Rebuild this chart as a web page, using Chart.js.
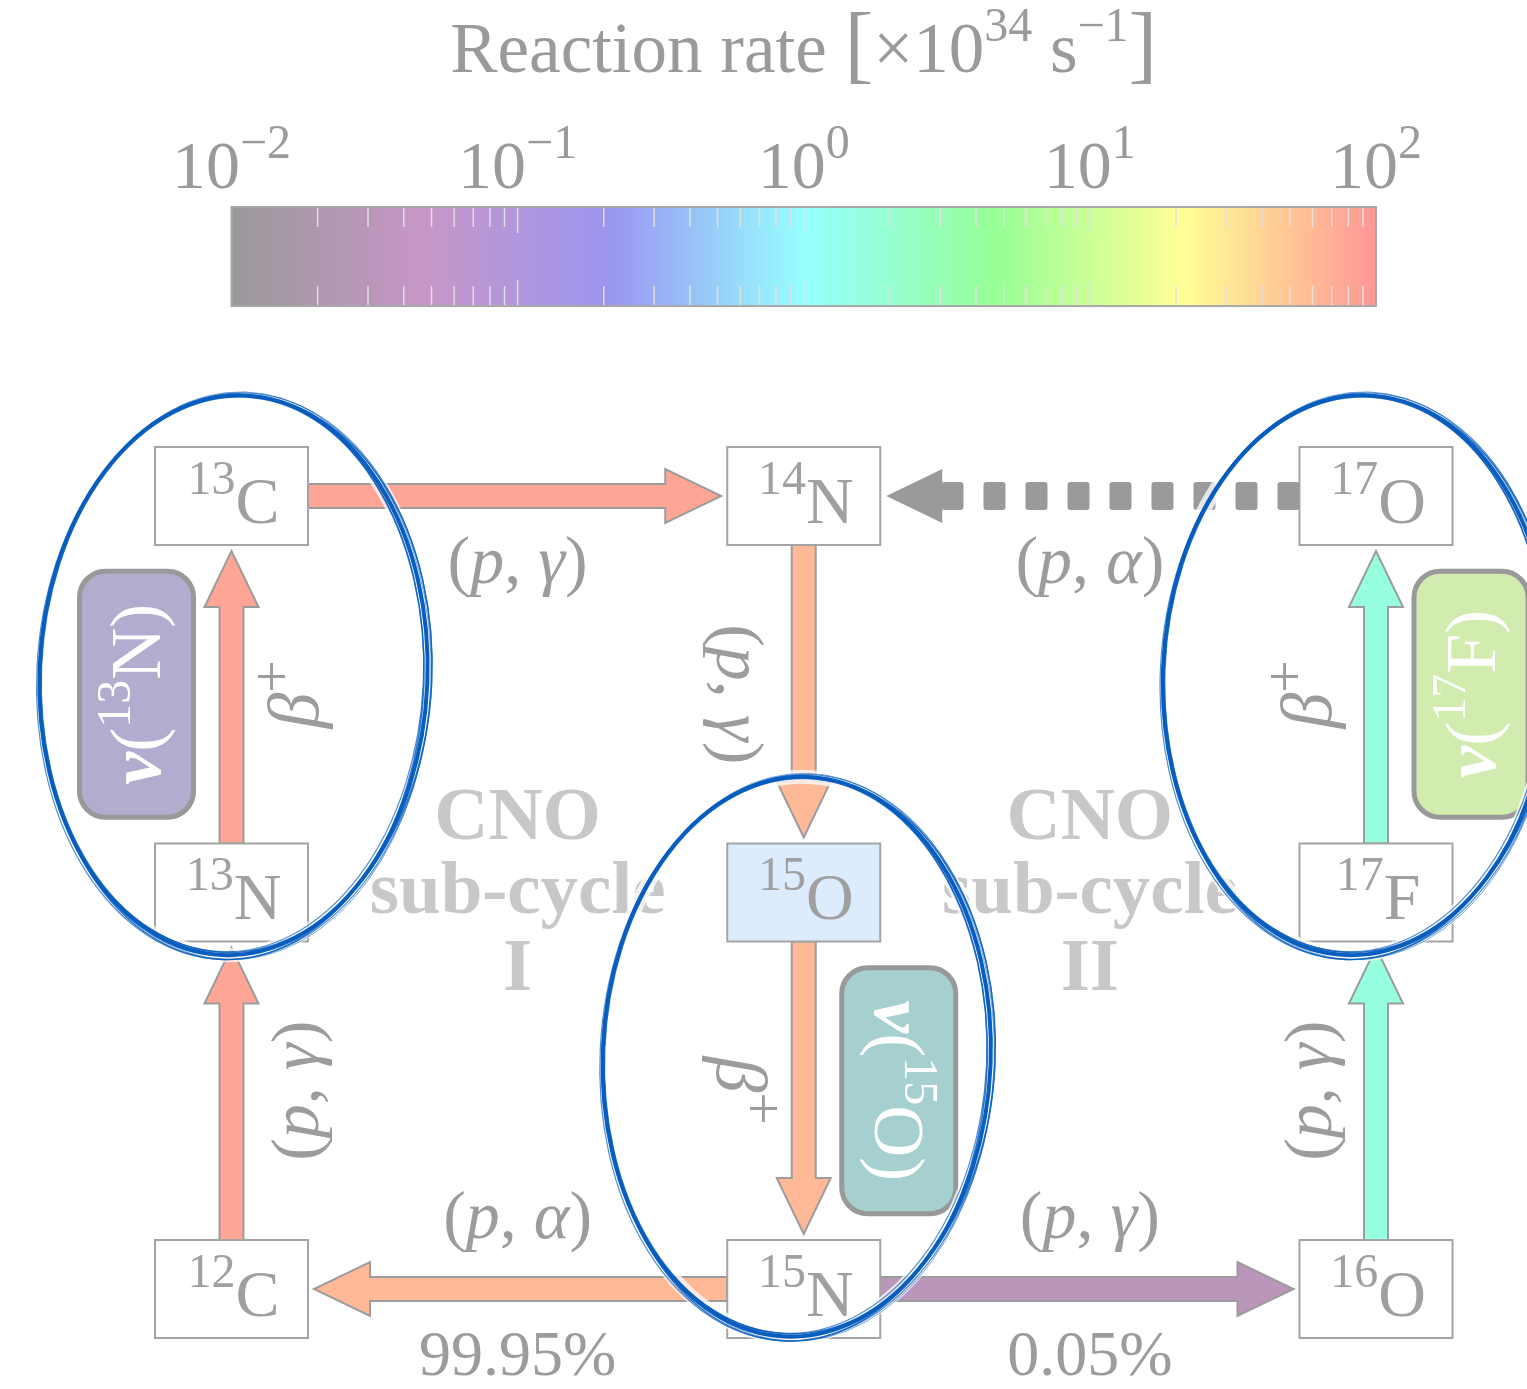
<!DOCTYPE html>
<html>
<head>
<meta charset="utf-8">
<title>CNO cycle reaction rates</title>
<script src="https://cdn.jsdelivr.net/npm/chart.js@4.4.1/dist/chart.umd.min.js"></script>
<style>
html,body{margin:0;padding:0;background:#fff;}
canvas{display:block;}
</style>
</head>
<body>
<canvas id="cno" width="1527" height="1389"></canvas>
<script>
// nuclei, placed on a 3x3 grid (column, row)
const nuclei     = ["13C","14N","17O","13N","15O","17F","12C","15N","16O"];
const massNumber = ["13","14","17","13","15","17","12","15","16"];
const element    = ["C","N","O","N","O","F","C","N","O"];
const gridCol    = [0,1,2,0,1,2,0,1,2];
const gridRow    = [0,0,0,1,1,1,2,2,2];

// reactions: source -> product, type, rate [x10^34 s^-1]
const reactionFrom  = ["13C","14N","15O","15N","12C","13N","15N","16O","17F","17O"];
const reactionTo    = ["14N","15O","15N","12C","13N","13C","16O","17F","17O","14N"];
const reactionType  = ["(p,γ)","(p,γ)","β+","(p,α)","(p,γ)","β+","(p,γ)","(p,γ)","β+","(p,α)"];
const reactionRate  = [80, 60, 60, 60, 80, 80, 0.03, 1.6, 1.6, 0.005];
const branchPercent = ["","","","99.95%","","","0.05%","","",""];

// neutrino emitters
const neutrinoFrom = ["13N","15O","17F"];
const neutrinoFill = ["#b3acce","#a6d0d0","#d2ecb0"];

// colour bar (log10 of rate)
const cbExpMin = -2, cbExpMax = 2;
const cbTickExp = [-2,-1,0,1,2];
const cmapExp = [-2,-1.33,-0.67,0,0.67,1.33,2];
const cmapRGB = [[153,153,153],[200,150,200],[155,150,240],[150,255,255],[150,255,150],[255,255,150],[255,150,150]];

const subCycles = ["I","II"];

const FONT = '"Liberation Serif","DejaVu Serif",serif';
const GREY = '#9c9c9c';
const BW = 153, BH = 98;

function cmap(e){
  if(e<=cmapExp[0]) return cmapRGB[0];
  for(let i=1;i<cmapExp.length;i++){
    if(e<=cmapExp[i]){
      const t=(e-cmapExp[i-1])/(cmapExp[i]-cmapExp[i-1]);
      return cmapRGB[i-1].map((c,k)=>Math.round(c+(cmapRGB[i][k]-c)*t));
    }
  }
  return cmapRGB[cmapRGB.length-1];
}
const rgb = a => `rgb(${a[0]},${a[1]},${a[2]})`;

// parts: [text, size, style, raise]
function rich(ctx, parts, x, y, align){
  let w=0;
  parts.forEach(p=>{ctx.font=`${p[2]||''} ${p[1]}px ${FONT}`;w+=ctx.measureText(p[0]).width;});
  let cx = align==='center'? x-w/2 : x;
  parts.forEach(p=>{
    ctx.font=`${p[2]||''} ${p[1]}px ${FONT}`;
    ctx.fillText(p[0],cx,y-(p[3]||0));
    cx+=ctx.measureText(p[0]).width;
  });
}

function labelParts(type, s){
  if(type==='β+') return [["β",s*1.05,'italic'],["+",s*0.85,'',s*0.4]];
  const m = type.match(/\((.),(.)\)/);
  return [["(",s],[m[1],s,'italic'],[", ",s],[m[2],s,'italic'],[")",s]];
}

function arrow(ctx,x1,y1,x2,y2,fill,dashed){
  const ang=Math.atan2(y2-y1,x2-x1), len=Math.hypot(x2-x1,y2-y1);
  const hw=12, hh=27, hl=56;
  ctx.save(); ctx.translate(x1,y1); ctx.rotate(ang);
  if(!dashed){
    ctx.beginPath();
    ctx.moveTo(0,-hw); ctx.lineTo(len-hl,-hw); ctx.lineTo(len-hl,-hh); ctx.lineTo(len,0);
    ctx.lineTo(len-hl,hh); ctx.lineTo(len-hl,hw); ctx.lineTo(0,hw); ctx.closePath();
    ctx.fillStyle=fill; ctx.fill();
    ctx.strokeStyle=GREY; ctx.lineWidth=2; ctx.lineJoin='miter'; ctx.stroke();
  } else {
    ctx.fillStyle='#9a9a9a';
    for(let s=0;s<len-hl;s+=42){
      ctx.beginPath(); ctx.roundRect(s,-14,22,28,3); ctx.fill();
    }
    ctx.beginPath();
    ctx.moveTo(len-hl,-hh); ctx.lineTo(len,0); ctx.lineTo(len-hl,hh); ctx.closePath(); ctx.fill();
  }
  ctx.restore();
}

const diagram = {
  id:'diagram',
  afterDraw(chart){
    const ctx=chart.ctx, sx=chart.scales.x, sy=chart.scales.y;
    const X=v=>sx.getPixelForValue(v), Y=v=>sy.getPixelForValue(v);
    const node = n => { const i=nuclei.indexOf(n); return {x:X(gridCol[i]), y:Y(gridRow[i]), i}; };
    const cbX = e => X((e-cbExpMin)/(cbExpMax-cbExpMin)*2);
    ctx.save();

    // ---- colour bar ----
    const cbL=cbX(cbExpMin), cbR=cbX(cbExpMax), cbT=Y(-0.729), cbB=Y(-0.479);
    const g=ctx.createLinearGradient(cbL,0,cbR,0);
    cmapExp.forEach((e,i)=>g.addColorStop((e-cbExpMin)/(cbExpMax-cbExpMin),rgb(cmapRGB[i])));
    ctx.fillStyle=g; ctx.fillRect(cbL,cbT,cbR-cbL,cbB-cbT);
    ctx.strokeStyle='rgba(225,225,225,0.95)'; ctx.lineWidth=1.5;
    for(let d=cbExpMin; d<cbExpMax; d++){
      for(let k=1;k<10;k++){
        const e=d+Math.log10(k); if(e<=cbExpMin) continue;
        const x=cbX(e), tl = k===1?26:20;
        ctx.beginPath(); ctx.moveTo(x,cbT); ctx.lineTo(x,cbT+tl); ctx.moveTo(x,cbB); ctx.lineTo(x,cbB-tl); ctx.stroke();
      }
    }
    ctx.strokeStyle='#a8a8a8'; ctx.lineWidth=2; ctx.strokeRect(cbL,cbT,cbR-cbL,cbB-cbT);

    ctx.fillStyle='#9a9a9a'; ctx.textBaseline='alphabetic';
    cbTickExp.forEach(e=>{
      rich(ctx,[["10",68],[(e<0?"−":"")+Math.abs(e),48,'',30]],cbX(e),Y(-0.778),'center');
    });
    rich(ctx,[["Reaction rate ",71],["[",86],["×10",71],["34",48,'',31],[" s",71],["−1",48,'',31],["]",86]],
      cbX(0),Y(-1.069),'center');

    // ---- sub-cycle titles ----
    ctx.fillStyle='#c8c8c8'; ctx.textAlign='center';
    subCycles.forEach((s,i)=>{
      const x=X(i+0.5);
      ctx.font=`bold 75px ${FONT}`;
      ctx.fillText("CNO",x,Y(1)-53);
      ctx.fillText("sub-cycle",x,Y(1)+21);
      ctx.fillText(s,x,Y(1)+98);
    });
    ctx.textAlign='left';

    // ---- reactions ----
    reactionFrom.forEach((f,i)=>{
      const a=node(f), b=node(reactionTo[i]);
      const e=Math.log10(reactionRate[i]);
      const dashed = e<cbExpMin;
      const col = rgb(cmap(e));
      let x1,y1,x2,y2;
      if(Math.abs(b.x-a.x)>1){
        const d=Math.sign(b.x-a.x);
        x1=a.x+d*BW/2; x2=b.x-d*(BW/2+6); y1=y2=a.y;
      } else {
        const d=Math.sign(b.y-a.y);
        y1=a.y+d*BH/2; y2=b.y-d*(BH/2+6); x1=x2=a.x;
      }
      arrow(ctx,x1,y1,x2,y2,col,dashed);

      ctx.fillStyle='#9c9c9c';
      if(y1===y2){
        const mx=(a.x+b.x)/2, top = gridRow[a.i]===0;
        rich(ctx,labelParts(reactionType[i],68),mx, top? a.y+87 : a.y-51,'center');
        if(branchPercent[i]) rich(ctx,[[branchPercent[i],64]],mx, top? a.y-51 : a.y+86,'center');
      } else {
        const my=(a.y+b.y)/2, side = gridCol[a.i]===0 ? 1 : -1;
        const rot = b.y<a.y ? -Math.PI/2 : Math.PI/2;
        ctx.save(); ctx.translate(a.x+side*66,my); ctx.rotate(rot);
        rich(ctx,labelParts(reactionType[i],68),0,21,'center');
        ctx.restore();
      }
    });

    // ---- nuclei boxes ----
    nuclei.forEach((n,i)=>{
      const x=X(gridCol[i]), y=Y(gridRow[i]);
      ctx.fillStyle = n==="15O" ? '#ddecfc' : '#ffffff';
      ctx.fillRect(x-BW/2,y-BH/2,BW,BH);
      ctx.strokeStyle='#a4a4a4'; ctx.lineWidth=2; ctx.strokeRect(x-BW/2,y-BH/2,BW,BH);
      ctx.fillStyle='#a0a0a0';
      rich(ctx,[[massNumber[i],48,'',29],[element[i],66]],x+2,y+27,'center');
    });

    // ---- neutrino badges ----
    const badges=[];
    neutrinoFrom.forEach((n,k)=>{
      const j=reactionFrom.findIndex((f,r)=>f===n && reactionType[r]==='β+');
      const a=node(n), b=node(reactionTo[j]);
      const side = gridCol[a.i]===0 ? -1 : 1;
      const cx=a.x+side*95, cy=(a.y+b.y)/2;
      ctx.fillStyle=neutrinoFill[k]; ctx.strokeStyle='#999999'; ctx.lineWidth=5;
      ctx.beginPath(); ctx.roundRect(cx-57,cy-123,114,246,26); ctx.fill(); ctx.stroke();
      const rot = b.y<a.y ? -Math.PI/2 : Math.PI/2;
      ctx.save(); ctx.translate(cx,cy); ctx.rotate(rot); ctx.fillStyle='#ffffff';
      const i=nuclei.indexOf(n);
      rich(ctx,[["ν",74,'bold italic'],["(",72],[massNumber[i],48,'',30],[element[i],72],[")",72]],0,24,'center');
      ctx.restore();
      badges.push({x:(a.x+b.x)/2, y:(a.y+b.y)/2, col:gridCol[a.i]});
    });

    // ---- hand-drawn highlight ellipses ----
    const passes=[[0,0,0,0,0,4,1],[1.8,-1.2,2.5,-1.5,0.008,1.6,0.85],[-1.5,1.8,-2,2.5,-0.006,1.6,0.85],
                  [0.8,1,3.5,3.5,0.012,1.2,0.7],[-1,-0.8,-3,-2.5,0.004,1.2,0.7],[2.5,0.5,1,4,-0.01,1,0.55]];
    badges.forEach(bd=>{
      const cx=bd.x + (bd.col===0?2:(bd.col===1?-7:-19)), cy=bd.y-(bd.col===1?34:19), rx=194, ry=280, tilt=0.04;
      ctx.strokeStyle='rgba(255,255,255,0.75)'; ctx.lineWidth=14;
      ctx.beginPath(); ctx.ellipse(cx,cy,rx,ry,tilt,0,Math.PI*2); ctx.stroke();
      passes.forEach(p=>{
        ctx.strokeStyle=`rgba(8,94,190,${p[6]})`; ctx.lineWidth=p[5];
        ctx.beginPath(); ctx.ellipse(cx+p[0],cy+p[1],rx+p[2],ry+p[3],tilt+p[4],0,Math.PI*2); ctx.stroke();
      });
    });
    ctx.restore();
  }
};

new Chart(document.getElementById('cno'),{
  type:'scatter',
  data:{datasets:[{label:'nuclei',data:nuclei.map((n,i)=>({x:gridCol[i],y:gridRow[i]})),pointRadius:0}]},
  options:{
    responsive:false, animation:false,
    layout:{padding:0},
    plugins:{legend:{display:false},tooltip:{enabled:false}},
    scales:{
      x:{type:'linear',display:false,min:-0.40454,max:2.26387},
      y:{type:'linear',display:false,reverse:true,min:-1.25095,max:2.25221}
    }
  },
  plugins:[diagram]
});
</script>
</body>
</html>
